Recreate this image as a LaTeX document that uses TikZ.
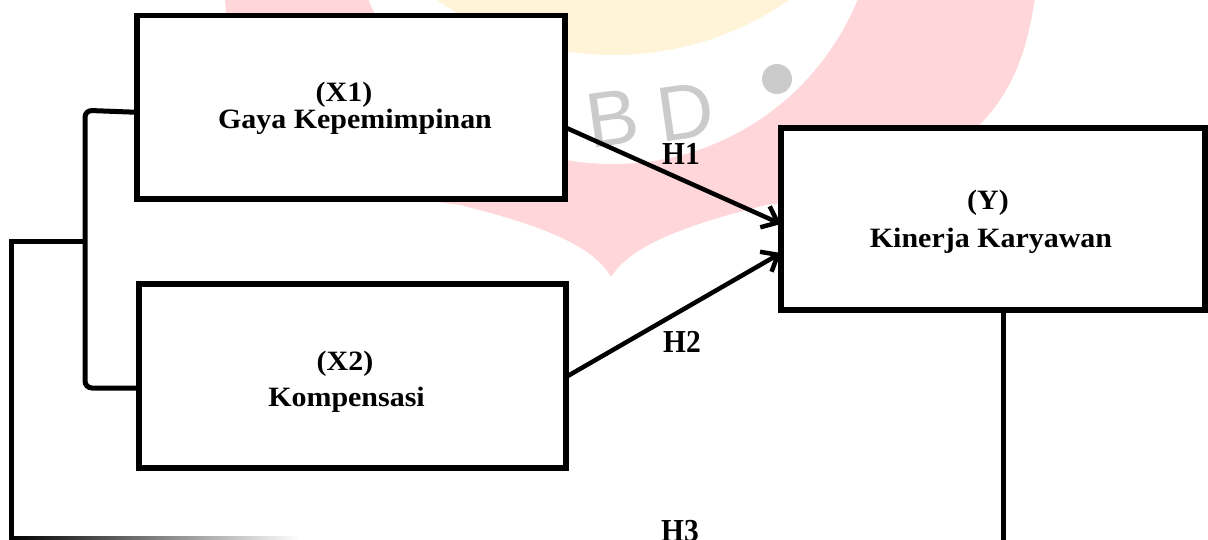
\documentclass[tikz,border=0pt]{standalone}
\usepackage{fontspec}
\setmainfont{Liberation Serif}
\newfontfamily\boxfont{Liberation Serif}[FakeStretch=1.07]
\newfontfamily\hfont{Liberation Serif}[FakeStretch=0.92]
\newfontfamily\wmfont{Liberation Sans}
\usetikzlibrary{arrows.meta,calc}
\definecolor{wmpink}{HTML}{FFD6D9}
\definecolor{wmcream}{HTML}{FFF4D8}
\definecolor{wmgray}{HTML}{CBCBCB}
\tikzset{
  box/.style={rectangle, draw=black, fill=white, line width=5.5pt, inner sep=0pt, outer sep=0pt},
  boxtxt/.style={font=\boxfont\bfseries\fontsize{28}{28}\selectfont, anchor=base, inner sep=0pt},
  hlab/.style={font=\hfont\bfseries\fontsize{32}{32}\selectfont, anchor=base, inner sep=0pt},
  arr/.style={line width=4.5pt, -{Straight Barb[length=14pt,width=23pt,line width=4.5pt]}, line cap=round},
  link/.style={line width=5pt},
  wmletter/.style={font=\wmfont\fontsize{78}{78}\selectfont, text=wmgray, inner sep=0pt, rotate=8},
}
\begin{document}
\begin{tikzpicture}[x=1pt,y=-1pt]
\useasboundingbox (0,0) rectangle (1208,540);
% watermark
\fill[wmpink] (225,-2) -- (1035,-2)
  .. controls (1021,90) and (986,180) .. (766,205)
  .. controls (686,225) and (631,245) .. (611,277)
  .. controls (593,245) and (540,225) .. (460,205)
  .. controls (250,180) and (230,90) .. (225,-2) -- cycle;
\fill[white] (613,-100) circle[radius=264];
\fill[wmcream] (613,-254) circle[radius=309];
\node[wmletter] (wmb) at (613,118) {B};
\node[wmletter] (wmd) at (686,112) {D};
\fill[wmgray] (777,79) circle[radius=15];
% boxes
\node[box, minimum width=428pt, minimum height=183.5pt] (x1) at (351,107.3) {};
\node[box, minimum width=427pt, minimum height=184pt] (x2) at (352.5,376) {};
\node[box, minimum width=424pt, minimum height=182pt] (y) at (993,219) {};
% texts
\node[boxtxt] (x1a) at (344,102) {(X1)};
\node[boxtxt] (x1b) at (355,129) {Gaya Kepemimpinan};
\node[boxtxt] (x2a) at (345,370) {(X2)};
\node[boxtxt] (x2b) at (346.5,406) {Kompensasi};
\node[boxtxt] (ya) at (988,210) {(Y)};
\node[boxtxt] (yb) at (991,248) {Kinerja Karyawan};
\node[hlab] (h1) at (681,165) {H1};
\node[hlab] (h2) at (682,352) {H2};
\node[hlab] (h3) at (680,541) {H3};
% arrows
\draw[arr] ([yshift=-20pt]x1.east) -- ([yshift=-5pt]y.west);
\draw[arr] ([yshift=-1pt]x2.east) -- ([yshift=-34pt]y.west);
% bracket
\coordinate (bt) at (85,242);
\coordinate (bl) at (11,242);
\coordinate (bb) at (11,540);
\coordinate (yb0) at (1003,540);
\draw[link, rounded corners=7pt] ([yshift=-5pt]x1.west) -- ++(-52,-2) |- ([yshift=-12pt]x2.west);
\draw[link] (bt) -- (bl) -- (bb);
\draw[link] (y.south -| yb0) -- (yb0);
\shade[left color=black, right color=white] (11,536.5) rectangle (300,540);
\end{tikzpicture}
\end{document}
